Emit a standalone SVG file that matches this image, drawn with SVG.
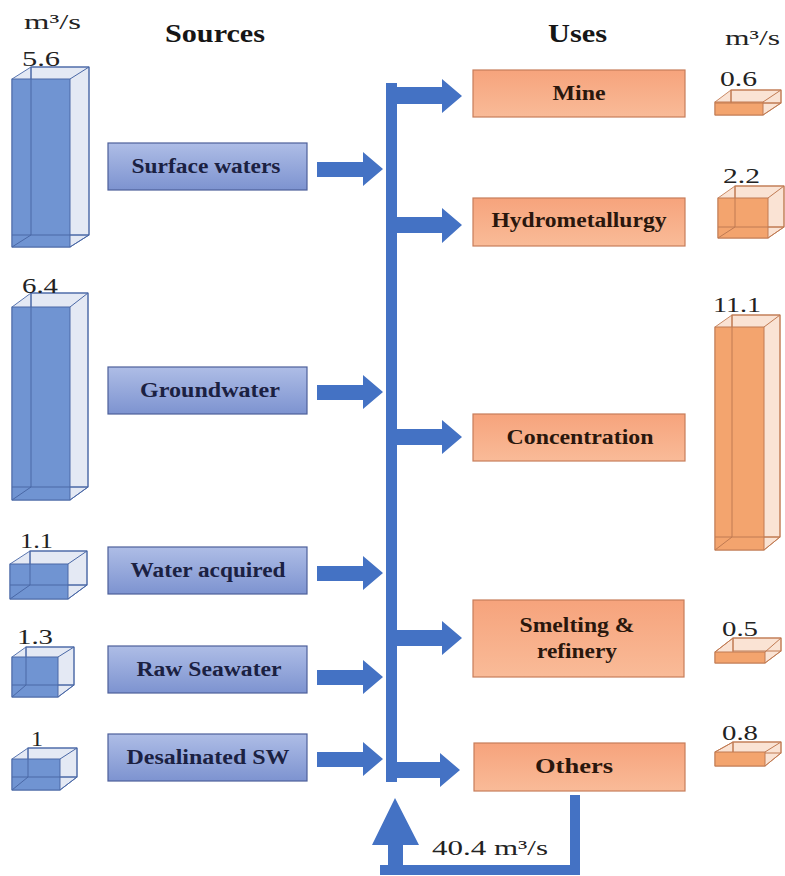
<svg xmlns="http://www.w3.org/2000/svg" width="785" height="876" viewBox="0 0 785 876">
<defs>
<linearGradient id="gBlue" x1="0" y1="0" x2="0" y2="1">
<stop offset="0" stop-color="#aebde6"/><stop offset="1" stop-color="#7d93d0"/>
</linearGradient>
<linearGradient id="gOr" x1="0" y1="0" x2="0" y2="1">
<stop offset="0" stop-color="#f6a37c"/><stop offset="1" stop-color="#f9bb98"/>
</linearGradient>
</defs>
<style>
.hdr{font-weight:bold;font-size:25px;fill:#161616}
.unit{font-size:21px;fill:#222}
.num{font-size:22px;fill:#222}
.lbl{font-weight:bold;font-size:20px;text-anchor:middle}
.src rect{fill:url(#gBlue);stroke:#4d5f9a;stroke-width:1.2}
.src text{fill:#1b2142}
.use rect{fill:url(#gOr);stroke:#c77d5a;stroke-width:1.2}
.use text{fill:#2a170d}
.bc .hull{fill:#e4e9f4;stroke:#5a76b0;stroke-width:1}
.bc .front{fill:#7094d2;stroke:#4a68a6;stroke-width:1}
.bc line,.bc .back{fill:none;stroke:#4a68a6;stroke-width:1}
.oc .hull{fill:#fae3d4;stroke:#c98a66;stroke-width:1}
.oc .front{fill:#f3a46e;stroke:#c07a52;stroke-width:1}
.oc line,.oc .back{fill:none;stroke:#c07a52;stroke-width:1}
.arr{fill:#4472c4}
</style>
<g font-family="'Liberation Serif', 'DejaVu Serif', serif">
<text class="unit" x="24" y="29" textLength="57" lengthAdjust="spacingAndGlyphs">m³/s</text>
<text class="hdr" x="165" y="42" textLength="100" lengthAdjust="spacingAndGlyphs">Sources</text>
<text class="hdr" x="548" y="42" textLength="59" lengthAdjust="spacingAndGlyphs">Uses</text>
<text class="unit" x="725" y="45" textLength="55" lengthAdjust="spacingAndGlyphs">m³/s</text>

<!-- Left cubes -->
<g id="cube-surface" class="bc">
<polygon class="hull" points="12,79 31,67 89,67 89,235 70,247 12,247"/>
<rect class="back" x="31" y="67" width="58" height="168"/>
<rect class="front" x="12" y="79" width="58" height="168"/>
<line x1="31" y1="67" x2="31" y2="235"/><line x1="12" y1="235" x2="89" y2="235"/>
<line x1="70" y1="79" x2="89" y2="67"/><line x1="12" y1="247" x2="31" y2="235"/><line x1="70" y1="247" x2="89" y2="235"/>
<text class="num" x="22" y="66" textLength="38" lengthAdjust="spacingAndGlyphs">5.6</text>
</g>
<g id="cube-ground" class="bc">
<polygon class="hull" points="12,307 31,293 88,293 88,487 70,500 12,500"/>
<rect class="back" x="31" y="293" width="57" height="194"/>
<rect class="front" x="12" y="307" width="58" height="193"/>
<line x1="31" y1="293" x2="31" y2="487"/><line x1="12" y1="487" x2="88" y2="487"/>
<line x1="70" y1="307" x2="88" y2="293"/><line x1="12" y1="500" x2="31" y2="487"/><line x1="70" y1="500" x2="88" y2="487"/>
<text class="num" x="22" y="293" textLength="36" lengthAdjust="spacingAndGlyphs">6.4</text>
</g>
<g id="cube-acquired" class="bc">
<polygon class="hull" points="10,564 30,551 87,551 87,585 68,599 10,599"/>
<rect class="back" x="30" y="551" width="57" height="34"/>
<rect class="front" x="10" y="564" width="58" height="35"/>
<line x1="30" y1="551" x2="30" y2="585"/><line x1="10" y1="585" x2="87" y2="585"/>
<line x1="68" y1="564" x2="87" y2="551"/><line x1="10" y1="599" x2="30" y2="585"/><line x1="68" y1="599" x2="87" y2="585"/>
<text class="num" x="20" y="548" textLength="33" lengthAdjust="spacingAndGlyphs">1.1</text>
</g>
<g id="cube-raw" class="bc">
<polygon class="hull" points="12,657 26,647 74,647 74,685 58,697 12,697"/>
<rect class="back" x="26" y="647" width="48" height="38"/>
<rect class="front" x="12" y="657" width="46" height="40"/>
<line x1="26" y1="647" x2="26" y2="685"/><line x1="12" y1="685" x2="74" y2="685"/>
<line x1="58" y1="657" x2="74" y2="647"/><line x1="12" y1="697" x2="26" y2="685"/><line x1="58" y1="697" x2="74" y2="685"/>
<text class="num" x="17" y="644" textLength="36" lengthAdjust="spacingAndGlyphs">1.3</text>
</g>
<g id="cube-desal" class="bc">
<polygon class="hull" points="12,759 28,748 77,748 77,777 60,790 12,790"/>
<rect class="back" x="28" y="748" width="49" height="29"/>
<rect class="front" x="12" y="759" width="48" height="31"/>
<line x1="28" y1="748" x2="28" y2="777"/><line x1="12" y1="777" x2="77" y2="777"/>
<line x1="60" y1="759" x2="77" y2="748"/><line x1="12" y1="790" x2="28" y2="777"/><line x1="60" y1="790" x2="77" y2="777"/>
<text class="num" x="31" y="746" textLength="12" lengthAdjust="spacingAndGlyphs">1</text>
</g>

<!-- Source boxes -->
<g id="src-surface" class="src"><rect x="108" y="143" width="199" height="47"/><text class="lbl" x="206" y="173" textLength="149" lengthAdjust="spacingAndGlyphs">Surface waters</text></g>
<g id="src-ground" class="src"><rect x="108" y="367" width="199" height="47"/><text class="lbl" x="210" y="397" textLength="140" lengthAdjust="spacingAndGlyphs">Groundwater</text></g>
<g id="src-acquired" class="src"><rect x="108" y="547" width="199" height="47"/><text class="lbl" x="208" y="577" textLength="155" lengthAdjust="spacingAndGlyphs">Water acquired</text></g>
<g id="src-raw" class="src"><rect x="108" y="646" width="199" height="47"/><text class="lbl" x="209" y="676" textLength="145" lengthAdjust="spacingAndGlyphs">Raw Seawater</text></g>
<g id="src-desal" class="src"><rect x="108" y="734" width="199" height="47"/><text class="lbl" x="208" y="764" textLength="163" lengthAdjust="spacingAndGlyphs">Desalinated SW</text></g>

<!-- Use boxes -->
<g id="use-mine" class="use"><rect x="473" y="70" width="212" height="47"/><text class="lbl" x="579" y="100" textLength="53" lengthAdjust="spacingAndGlyphs">Mine</text></g>
<g id="use-hydro" class="use"><rect x="473" y="198" width="212" height="48"/><text class="lbl" x="579" y="227" textLength="175" lengthAdjust="spacingAndGlyphs">Hydrometallurgy</text></g>
<g id="use-conc" class="use"><rect x="473" y="414" width="212" height="47"/><text class="lbl" x="580" y="444" textLength="147" lengthAdjust="spacingAndGlyphs">Concentration</text></g>
<g id="use-smelt" class="use"><rect x="473" y="600" width="211" height="77"/><text class="lbl" x="577" y="632" textLength="115" lengthAdjust="spacingAndGlyphs">Smelting &amp;</text><text class="lbl" x="577" y="658" textLength="80" lengthAdjust="spacingAndGlyphs">refinery</text></g>
<g id="use-others" class="use"><rect x="474" y="743" width="211" height="48"/><text class="lbl" x="574" y="773" textLength="78" lengthAdjust="spacingAndGlyphs">Others</text></g>

<!-- Right cubes -->
<g id="cube-mine" class="oc">
<polygon class="hull" points="715,102 731,90 781,90 781,103 763,115 715,115"/>
<rect class="back" x="731" y="90" width="50" height="13"/>
<rect class="front" x="715" y="102" width="48" height="13"/>
<line x1="731" y1="90" x2="731" y2="103"/><line x1="715" y1="103" x2="781" y2="103"/>
<line x1="763" y1="102" x2="781" y2="90"/><line x1="763" y1="115" x2="781" y2="103"/>
<text class="num" x="720" y="86" textLength="37" lengthAdjust="spacingAndGlyphs">0.6</text>
</g>
<g id="cube-hydro" class="oc">
<polygon class="hull" points="718,198 735,186 784,186 784,227 768,238 718,238"/>
<rect class="back" x="735" y="186" width="49" height="41"/>
<rect class="front" x="718" y="198" width="50" height="40"/>
<line x1="735" y1="186" x2="735" y2="227"/><line x1="718" y1="227" x2="784" y2="227"/>
<line x1="768" y1="198" x2="784" y2="186"/><line x1="718" y1="238" x2="735" y2="227"/><line x1="768" y1="238" x2="784" y2="227"/>
<text class="num" x="723" y="183" textLength="37" lengthAdjust="spacingAndGlyphs">2.2</text>
</g>
<g id="cube-conc" class="oc">
<polygon class="hull" points="715,327 732,315 780,315 780,537 764,550 715,550"/>
<rect class="back" x="732" y="315" width="48" height="222"/>
<rect class="front" x="715" y="327" width="49" height="223"/>
<line x1="732" y1="315" x2="732" y2="537"/><line x1="715" y1="537" x2="780" y2="537"/>
<line x1="764" y1="327" x2="780" y2="315"/><line x1="715" y1="550" x2="732" y2="537"/><line x1="764" y1="550" x2="780" y2="537"/>
<text class="num" x="713" y="312" textLength="48" lengthAdjust="spacingAndGlyphs">11.1</text>
</g>
<g id="cube-smelt" class="oc">
<polygon class="hull" points="715,652 733,638 781,638 781,651 765,663 715,663"/>
<rect class="back" x="733" y="638" width="48" height="13"/>
<rect class="front" x="715" y="652" width="50" height="11"/>
<line x1="733" y1="638" x2="733" y2="652"/><line x1="715" y1="652" x2="733" y2="638"/>
<line x1="765" y1="652" x2="781" y2="638"/><line x1="765" y1="663" x2="781" y2="651"/>
<text class="num" x="722" y="636" textLength="36" lengthAdjust="spacingAndGlyphs">0.5</text>
</g>
<g id="cube-others" class="oc">
<polygon class="hull" points="715,752 733,742 781,742 781,753 765,766 715,766"/>
<rect class="back" x="733" y="742" width="48" height="11"/>
<rect class="front" x="715" y="752" width="50" height="14"/>
<line x1="733" y1="742" x2="733" y2="752"/><line x1="715" y1="752" x2="733" y2="742"/>
<line x1="765" y1="752" x2="781" y2="742"/><line x1="765" y1="766" x2="781" y2="753"/>
<text class="num" x="722" y="740" textLength="36" lengthAdjust="spacingAndGlyphs">0.8</text>
</g>

<!-- Connectors -->
<g id="connectors" class="arr">
<polygon points="317,162 363,162 363,152 383,169 363,186 363,177 317,177"/>
<polygon points="317,385 363,385 363,375 383,392 363,409 363,400 317,400"/>
<polygon points="317,566 363,566 363,556 383,573 363,590 363,581 317,581"/>
<polygon points="317,670 363,670 363,660 383,677 363,694 363,685 317,685"/>
<polygon points="317,752 363,752 363,742 383,759 363,776 363,767 317,767"/>
<rect x="386" y="83" width="11" height="699"/>
<polygon points="386,87 442,87 442,79 462,96 442,113 442,104 386,104"/>
<polygon points="397,217 442,217 442,208 462,225 442,243 442,233 397,233"/>
<polygon points="397,429 442,429 442,420 462,437 442,454 442,445 397,445"/>
<polygon points="397,630 442,630 442,621 462,638 442,655 442,646 397,646"/>
<polygon points="397,762 440,762 440,753 460,770 440,787 440,778 397,778"/>
<rect x="570" y="795" width="10" height="80"/>
<rect x="380" y="865" width="200" height="10"/>
<polygon points="388,875 388,845 372,845 395,798 419,845 403,845 403,875"/>
</g>
<text class="unit" x="432" y="855" textLength="116" lengthAdjust="spacingAndGlyphs">40.4 m³/s</text>
</g>
</svg>
